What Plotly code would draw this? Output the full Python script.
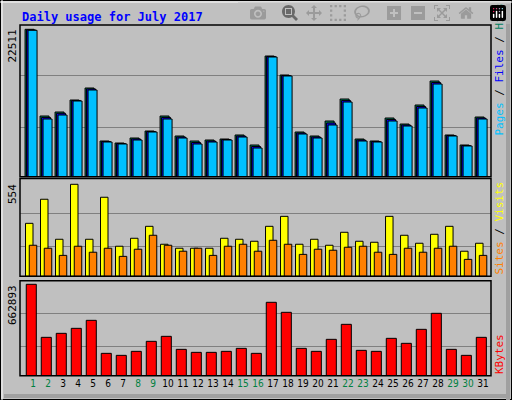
import plotly.graph_objects as go

days = list(range(1, 32))
hits = [22511, 9270, 9880, 11710, 13545, 5450, 5145, 5910, 6980, 9270, 6215, 5450, 5605, 5755, 6370, 4840,
        18430, 15530, 6825, 6215, 8505, 11865, 5755, 5450, 8965, 8045, 10950, 14615, 6370, 4840, 9115]
files = [22420, 9050, 9680, 11640, 13400, 5380, 5070, 5760, 6900, 9050, 6060, 5220, 5450, 5680, 6210, 4610,
         18360, 15450, 6670, 6060, 8200, 11630, 5600, 5380, 8740, 7890, 10720, 14380, 6290, 4760, 8960]
pages = [22355, 8810, 9420, 11560, 13240, 5300, 4995, 5605, 6825, 8810, 5910, 4995, 5300, 5605, 6060, 4380,
         18280, 15380, 6520, 5910, 7895, 11405, 5450, 5300, 8505, 7740, 10490, 14155, 6215, 4690, 8810]
visits = [319, 464, 223, 554, 223, 476, 181, 229, 301, 193, 169, 169, 169, 229, 223, 211,
          301, 361, 193, 223, 187, 265, 211, 205, 361, 247, 199, 253, 301, 151, 199]
sites = [187, 169, 126, 181, 145, 169, 120, 163, 247, 187, 151, 169, 126, 181, 193, 151,
         217, 193, 132, 163, 157, 175, 181, 145, 132, 169, 145, 169, 181, 102, 126]
kbytes = [662893, 278220, 307250, 343540, 401600, 162090, 147580, 176610, 249190, 285480, 191120, 169350,
          169350, 176610, 198380, 162090, 532240, 459660, 198380, 176610, 263700, 372570, 183870, 176610,
          270960, 234670, 336280, 452410, 191120, 147580, 278220]
weekend = {1, 2, 8, 9, 15, 16, 22, 23, 29, 30}
tick_labels = [f"<span style='color:{'#008040' if d in weekend else '#000000'}'>{d}</span>" for d in days]

fig = go.Figure()
line = dict(color="black", width=1)
def bar(y, color, off, w, xa, ya):
    fig.add_trace(go.Bar(x=days, y=y, marker=dict(color=color, line=line), offset=off, width=w,
                         xaxis=xa, yaxis=ya, showlegend=False, hoverinfo="skip"))

bar(hits, "#00805c", -0.53, 0.6, "x", "y")
bar(files, "#0000ff", -0.43, 0.6, "x", "y")
bar(pages, "#00c0ff", -0.33, 0.6, "x", "y")
bar(visits, "#ffff00", -0.5, 0.5, "x2", "y2")
bar(sites, "#ff8000", -0.25, 0.5, "x2", "y2")
bar(kbytes, "#ff0000", -0.45, 0.67, "x3", "y3")

xr = [0.133, 31.53]
xd = [20 / 512, 491 / 512]
common_x = dict(range=xr, domain=xd, showgrid=False, zeroline=False, fixedrange=True, automargin=False)
fig.update_layout(
    width=512, height=400, margin=dict(l=0, r=0, t=0, b=0, autoexpand=False),
    paper_bgcolor="#c0c0c0", plot_bgcolor="#c0c0c0", barmode="overlay",
    font=dict(family="DejaVu Sans Mono", size=11, color="black"),
    xaxis=dict(**common_x, anchor="y", showticklabels=False),
    xaxis2=dict(**common_x, anchor="y2", showticklabels=False),
    xaxis3=dict(**common_x, anchor="y3", tickvals=days, ticktext=tick_labels, ticks="", tickangle=0,
                tickfont=dict(family="DejaVu Sans Condensed, DejaVu Sans", size=10)),
    yaxis=dict(range=[0, 23168], domain=[1 - 176.7 / 400, 1 - 25 / 400], tickvals=[7590, 15380],
               showticklabels=False, gridcolor="#808080", zeroline=False, automargin=False),
    yaxis2=dict(range=[0, 575.7], domain=[1 - 276.3 / 400, 1 - 180.7 / 400], tickvals=[182, 379],
                showticklabels=False, gridcolor="#808080", zeroline=False, automargin=False),
    yaxis3=dict(range=[0, 689000], domain=[1 - 375.7 / 400, 1 - 280.7 / 400], tickvals=[213230, 452560],
                showticklabels=False, gridcolor="#808080", zeroline=False, automargin=False),
)

shapes = [
    dict(type="rect", xref="paper", yref="paper", x0=0, x1=1, y0=0, y1=1, line=dict(color="black", width=2)),
    dict(type="line", xref="paper", yref="paper", x0=2 / 512, x1=2 / 512, y0=0, y1=1, line=dict(color="white", width=1)),
    dict(type="line", xref="paper", yref="paper", x0=0, x1=1, y0=1 - 2 / 400, y1=1 - 2 / 400, line=dict(color="white", width=1)),
    dict(type="rect", xref="paper", yref="paper", x0=506 / 512, x1=510 / 512, y0=0, y1=1 - 4 / 400,
         fillcolor="#a0a0a0", line=dict(width=0)),
    dict(type="rect", xref="paper", yref="paper", x0=4 / 512, x1=510 / 512, y0=2 / 400, y1=6 / 400,
         fillcolor="#a0a0a0", line=dict(width=0)),
]
for top, bot in [(25, 176.7), (178.5, 276.3), (280.7, 375.7)]:
    shapes.append(dict(type="rect", xref="paper", yref="paper", x0=20 / 512, x1=491 / 512,
                       y0=1 - bot / 400, y1=1 - top / 400, line=dict(color="black", width=1.5)))
fig.update_layout(shapes=shapes)

ann = [
    dict(text="<b>Daily usage for July 2017</b>", x=20 / 512, y=1 - 8 / 400, xanchor="left", yanchor="top",
         font=dict(color="#0000ff", size=12, family="DejaVu Sans Mono")),
    dict(text="22511", x=12 / 512, y=1 - 28 / 400, textangle=-90, xanchor="center", yanchor="top"),
    dict(text="554", x=12 / 512, y=1 - 182 / 400, textangle=-90, xanchor="center", yanchor="top"),
    dict(text="662893", x=12 / 512, y=1 - 283 / 400, textangle=-90, xanchor="center", yanchor="top"),
    dict(text="<span style='color:#00c0ff'>Pages</span> / <span style='color:#0000ff'>Files</span> / "
              "<span style='color:#008060'>Hits</span>", x=499 / 512, y=1 - 138 / 400, textangle=-90,
         xanchor="center", yanchor="bottom"),
    dict(text="<span style='color:#ff8000'>Sites</span> / <span style='color:#ffff00'>Visits</span>",
         x=499 / 512, y=1 - 277 / 400, textangle=-90, xanchor="center", yanchor="bottom"),
    dict(text="<span style='color:#ff0000'>KBytes</span>", x=499 / 512, y=1 - 376 / 400, textangle=-90,
         xanchor="center", yanchor="bottom"),
]
for a in ann:
    a.update(xref="paper", yref="paper", showarrow=False)
fig.update_layout(annotations=ann)
fig.write_html("out.html", post_script="document.body.style.margin='0';document.body.style.overflow='hidden';")
